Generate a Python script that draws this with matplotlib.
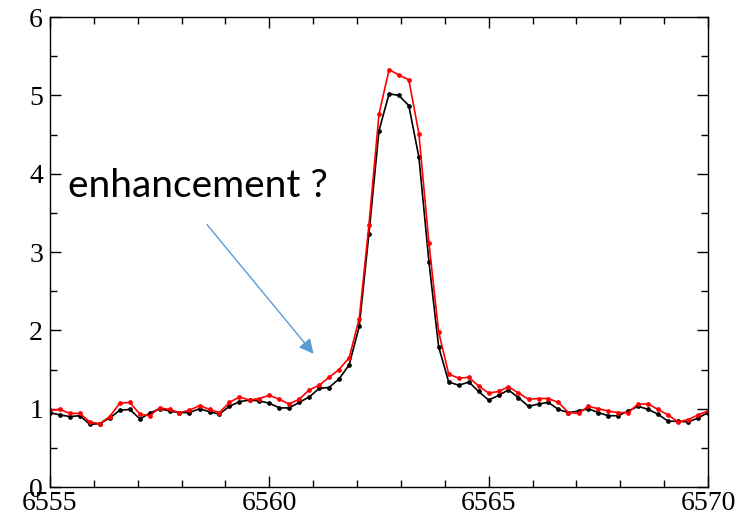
import matplotlib
matplotlib.use('Agg')
import matplotlib.pyplot as plt
from matplotlib.ticker import MultipleLocator

plt.rcParams['font.family'] = ['Liberation Serif', 'DejaVu Serif']

# wavelength grid (67 pixels, 6555 - 6570)
wave = [6555.00, 6555.23, 6555.45, 6555.68, 6555.91, 6556.14, 6556.36, 6556.59,
        6556.82, 6557.05, 6557.27, 6557.50, 6557.73, 6557.95, 6558.18, 6558.41,
        6558.64, 6558.86, 6559.09, 6559.32, 6559.55, 6559.77, 6560.00, 6560.23,
        6560.45, 6560.68, 6560.91, 6561.14, 6561.36, 6561.59, 6561.82, 6562.05,
        6562.27, 6562.50, 6562.73, 6562.95, 6563.18, 6563.41, 6563.64, 6563.86,
        6564.09, 6564.32, 6564.55, 6564.77, 6565.00, 6565.23, 6565.45, 6565.68,
        6565.91, 6566.14, 6566.36, 6566.59, 6566.82, 6567.05, 6567.27, 6567.50,
        6567.73, 6567.95, 6568.18, 6568.41, 6568.64, 6568.86, 6569.09, 6569.32,
        6569.55, 6569.77, 6570.00]

black = [0.95, 0.92, 0.90, 0.91, 0.80, 0.81, 0.88, 0.98, 0.99, 0.87,
         0.94, 1.00, 0.97, 0.95, 0.95, 1.00, 0.96, 0.93, 1.03, 1.09,
         1.11, 1.10, 1.07, 1.01, 1.01, 1.08, 1.15, 1.26, 1.27, 1.38,
         1.56, 2.05, 3.23, 4.55, 5.02, 5.00, 4.87, 4.21, 2.87, 1.79,
         1.34, 1.30, 1.34, 1.22, 1.11, 1.17, 1.24, 1.14, 1.03, 1.06,
         1.08, 0.99, 0.95, 0.97, 1.00, 0.95, 0.91, 0.91, 0.97, 1.03,
         0.99, 0.93, 0.84, 0.84, 0.83, 0.88, 0.95]

red = [0.98, 0.99, 0.94, 0.94, 0.83, 0.81, 0.90, 1.07, 1.08, 0.93,
       0.91, 1.01, 0.99, 0.95, 0.98, 1.04, 0.99, 0.95, 1.08, 1.15,
       1.11, 1.13, 1.17, 1.12, 1.06, 1.12, 1.24, 1.30, 1.40, 1.50,
       1.65, 2.15, 3.34, 4.76, 5.33, 5.26, 5.20, 4.51, 3.11, 1.98,
       1.44, 1.39, 1.40, 1.29, 1.20, 1.22, 1.28, 1.20, 1.12, 1.13,
       1.13, 1.08, 0.95, 0.94, 1.03, 1.00, 0.97, 0.95, 0.95, 1.06,
       1.06, 0.99, 0.92, 0.83, 0.86, 0.92, 0.97]

fig = plt.figure(figsize=(7.53, 5.17), dpi=100)
ax = fig.add_axes([0.0664, 0.058, 0.8738, 0.909])

ax.plot(wave, black, color='black', lw=1.2, marker='o', ms=2.4)
ax.plot(wave, red, color='red', lw=1.2, marker='o', ms=2.4)

ax.set_xlim(6555, 6570)
ax.set_ylim(0, 6)
ax.xaxis.set_major_locator(MultipleLocator(5))
ax.xaxis.set_minor_locator(MultipleLocator(1))
ax.yaxis.set_major_locator(MultipleLocator(1))
ax.yaxis.set_minor_locator(MultipleLocator(0.5))
ax.tick_params(which='both', direction='in', top=True, right=True, width=1.0)
ax.tick_params(which='major', length=8, labelsize=20)
ax.tick_params(axis='x', which='major', pad=3)
ax.tick_params(axis='y', which='major', pad=5)
ax.tick_params(which='minor', length=5)
for s in ax.spines.values():
    s.set_linewidth(1.0)

ax.text(6555.41, 3.70, 'enhancement ?', fontfamily='Lato', fontsize=28,
        va='baseline', ha='left', color='black')
ax.annotate('', xy=(6561.01, 1.70), xytext=(6558.58, 3.35),
            arrowprops=dict(arrowstyle='-|>', color='#5B9BD5', lw=1.0,
                            mutation_scale=22, shrinkA=0, shrinkB=0))

fig.savefig('out.png', dpi=100)
